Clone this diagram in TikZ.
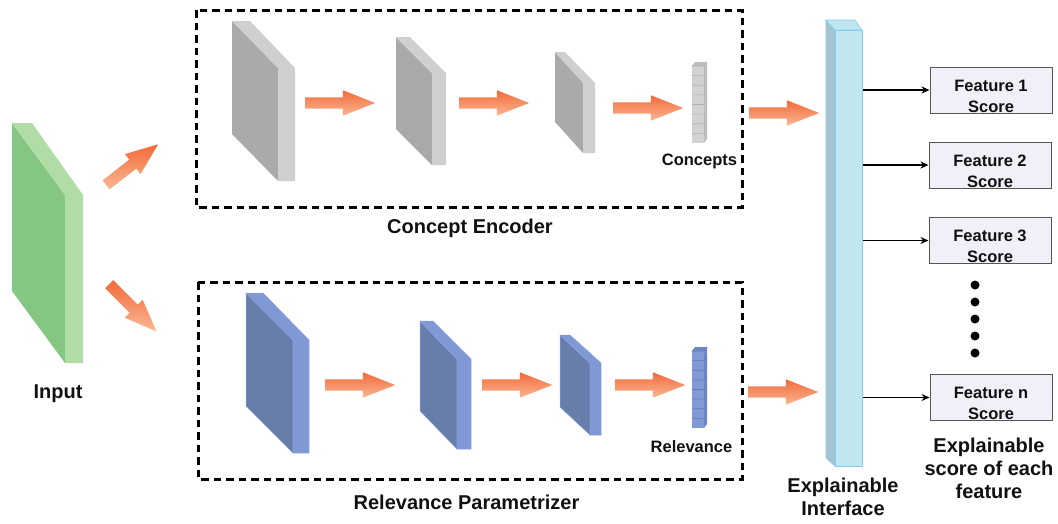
\documentclass[tikz,border=0pt]{standalone}
\usepackage{fontspec}
\setmainfont{Liberation Sans}
\usetikzlibrary{shapes.arrows,arrows.meta}

\definecolor{ink}{RGB}{17,17,17}
\definecolor{gdark}{RGB}{132,198,130}
\definecolor{glight}{RGB}{176,221,166}
\definecolor{sdark}{RGB}{170,170,170}
\definecolor{slight}{RGB}{207,207,207}
\definecolor{bdark}{RGB}{104,126,170}
\definecolor{blight}{RGB}{127,153,212}
\definecolor{bedge}{RGB}{145,158,228}
\definecolor{cfront}{RGB}{192,230,240}
\definecolor{cstrip}{RGB}{165,196,208}
\definecolor{cedge}{RGB}{130,208,238}
\definecolor{boxfill}{RGB}{242,239,248}
\definecolor{boxedge}{RGB}{85,85,85}
\definecolor{orA}{RGB}{242,106,58}
\definecolor{orB}{RGB}{250,184,148}
\definecolor{vgfront}{RGB}{210,210,210}
\definecolor{vgside}{RGB}{190,190,190}
\definecolor{vgline}{RGB}{178,178,178}
\definecolor{vbfront}{RGB}{128,154,214}
\definecolor{vbside}{RGB}{110,134,196}
\definecolor{vbline}{RGB}{100,122,190}

% feature map slab: top-left (#1,#2), top strip width #3,
% front face from (#4,#5) with width #6 down to #7; #8 dark style, #9 light style
\newcommand{\slab}[9]{%
  \path[#8] (#1,#2) -- (#4,#5) -- (#4,#7) -- (#1,{#2+#7-#5}) -- cycle;
  \path[#9] (#1,#2) -- ({#1+#3},#2) -- ({#4+#6},#5) -- ({#4+#6},#7) -- (#4,#7) -- (#4,#5) -- cycle;
}
% thin output vector: left x #1, top #2, bottom #3, colours front #4 side #5 lines #6
\newcommand{\vcol}[6]{%
  \fill[#4] (#1,{#2+4}) rectangle ({#1+12},#3);
  \fill[#5] (#1,{#2+4}) -- ({#1+3},#2) -- ({#1+15},#2) -- ({#1+12},{#2+4}) -- cycle;
  \fill[#5] ({#1+12},{#2+4}) -- ({#1+15},#2) -- ({#1+15},{#3-4}) -- ({#1+12},#3) -- cycle;
  \foreach \k in {1,...,7}
    \draw[#6, line width=0.6pt] (#1,{#2+4+\k*(#3-#2-4)/8}) -- ++(12,0) -- ++(3,-4);
  \draw[#6, line width=0.6pt] (#1,{#2+4}) -- ++(12,0) -- ++(3,-4);
}

\begin{document}
\begin{tikzpicture}[x=1pt,y=-1pt,
  lbl/.style={font=\fontsize{20}{23}\selectfont\bfseries, text=ink, align=center, inner sep=0pt},
  sml/.style={font=\fontsize{16.5}{21}\selectfont\bfseries, text=ink, align=center, inner sep=0pt},
  fatarrow/.style={single arrow, single arrow head extend=7pt, single arrow tip angle=43,
    inner xsep=0pt, inner ysep=5.5pt, minimum height=70pt, draw=none, anchor=tail,
    shading=axis, top color=orA, bottom color=orB},
  scorebox/.style={draw=boxedge, fill=boxfill, line width=1pt, minimum width=122pt,
    minimum height=46pt, inner sep=0pt, align=center, text height=44pt, text depth=0pt,
    font=\fontsize{16.5}{21}\selectfont\bfseries, text=ink},
  frame/.style={draw=black, line width=3pt, dash pattern=on 7.5pt off 5pt},
  link/.style={-{Stealth[length=8pt,width=7pt]}, line width=1.1pt, draw=black}]

\useasboundingbox (0,0) rectangle (1058,523);

% dashed module frames
\draw[frame] (196,10) rectangle (742,207);
\draw[frame] (198,282) rectangle (742,479);

% input slab
\slab{12}{123}{20}{65}{195}{18}{363}{fill=gdark}{fill=glight}
\node[lbl] (inlbl) at (58,394) {Input};

% concept encoder
\slab{232}{21}{18}{278}{68}{17}{181}{fill=sdark}{fill=slight}
\slab{396}{37}{14}{432}{73}{14}{165}{fill=sdark}{fill=slight}
\slab{555}{52}{10}{583}{83}{12}{153}{fill=sdark}{fill=slight}
\vcol{692}{62}{143}{vgfront}{vgside}{vgline}
\node[sml] (conc) at (699.5,161) {Concepts};
\node[lbl] (enc) at (470,228) {Concept Encoder};

% relevance parametrizer
\slab{246}{293}{17}{293}{340}{16}{453}{fill=bdark, draw=bedge, line width=0.5pt}{fill=blight, draw=bedge, line width=0.5pt}
\slab{420}{321}{13}{457}{359}{14}{449}{fill=bdark, draw=bedge, line width=0.5pt}{fill=blight, draw=bedge, line width=0.5pt}
\slab{560}{335}{10}{590}{363}{11}{435}{fill=bdark, draw=bedge, line width=0.5pt}{fill=blight, draw=bedge, line width=0.5pt}
\vcol{692}{347}{428}{vbfront}{vbside}{vbline}
\node[sml] (rel) at (691.5,447) {Relevance};
\node[lbl] (par) at (466.5,502) {Relevance Parametrizer};

% block arrows (placed by their tails)
\node[fatarrow, rotate=38, minimum height=66pt] (up) at (106,185) {};
\node[fatarrow, rotate=-45, minimum height=67pt] (down) at (109,284) {};
\node[fatarrow] (a1) at (305,103) {};
\node[fatarrow] (a2) at (459,103) {};
\node[fatarrow] (a3) at (613,108) {};
\node[fatarrow] (a4) at (749,113) {};
\node[fatarrow] (b1) at (325,385) {};
\node[fatarrow] (b2) at (482,385) {};
\node[fatarrow] (b3) at (615,385) {};
\node[fatarrow] (b4) at (748,392) {};

% explainable interface bar
\path[fill=cstrip, draw=cedge, line width=0.6pt] (826,20) -- (835,30) -- (835,466) -- (826,458) -- cycle;
\path[fill=cfront, draw=cedge, line width=0.6pt] (826,20) -- (855,20) -- (862,30) -- (835,30) -- cycle;
\node[draw=cedge, fill=cfront, line width=0.8pt, inner sep=0pt, minimum width=27pt,
  minimum height=436pt, anchor=north west] (bar) at (835,30) {};
\node[lbl] (barlbl) at (843,496.5) {Explainable\\Interface};

% feature scores
\node[scorebox] (f1) at (991,90) {Feature 1\\Score};
\node[scorebox] (f2) at (990,165) {Feature 2\\Score};
\node[scorebox] (f3) at (990,240.5) {Feature 3\\Score};
\node[scorebox] (fn) at (991,397.5) {Feature n\\Score};
\foreach \f in {f1,f2,f3,fn}
  \draw[link] (bar.east |- \f.west) -- (\f.west);
\foreach \y in {285,302,319,336,353}
  \fill[black] (975,\y) circle (4.5pt);
\node[lbl] (scorelbl) at (989,468.5) {Explainable\\score of each\\feature};

\end{tikzpicture}
\end{document}
